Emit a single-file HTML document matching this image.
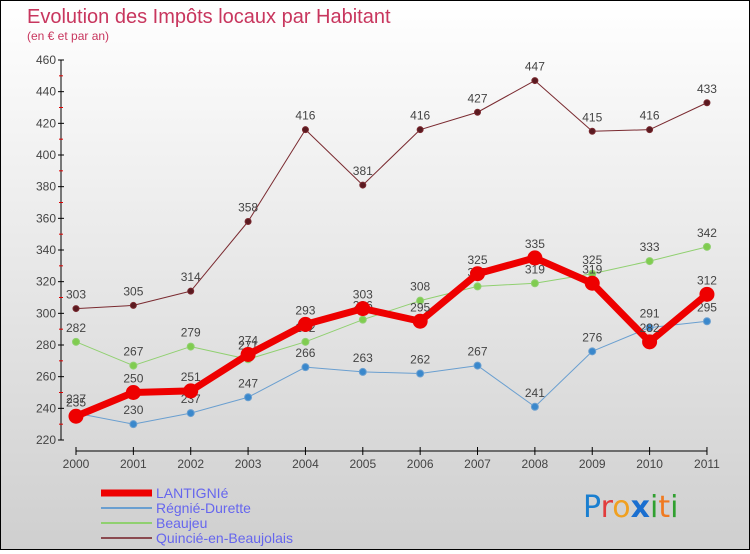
<!DOCTYPE html>
<html><head><meta charset="utf-8"><style>
html,body{margin:0;padding:0}
body{width:750px;height:550px;overflow:hidden;font-family:"Liberation Sans",sans-serif}
#wrap{position:relative;width:748px;height:548px;border:1px solid #000;background:linear-gradient(#ffffff,#cfcfcf)}
</style></head><body>
<div id="wrap">
<svg id="chart" width="748" height="548" font-family="Liberation Sans, sans-serif">
<text x="26" y="22" font-size="20" fill="#c8365e">Evolution des Impôts locaux par Habitant</text>
<text x="26" y="39" font-size="12" fill="#c8365e">(en € et par an)</text>
<g id="axes"></g><g id="series"></g><g id="legend"></g>
<g font-size="30" font-family="DejaVu Sans, sans-serif">
<text x="582" y="516"><tspan fill="#1a7fd0">P</tspan><tspan fill="#e23c3c">r</tspan><tspan fill="#f0a020">o</tspan><tspan fill="#1a6fd0" font-weight="bold">x</tspan><tspan fill="#30a030">i</tspan><tspan fill="#f07a20">t</tspan><tspan fill="#30a030">i</tspan></text>
</g>
</svg>
</div>
<script>
const years=[2000,2001,2002,2003,2004,2005,2006,2007,2008,2009,2010,2011];
const lantignie=[235,250,251,274,293,303,295,325,335,319,282,312];
const regnie=[237,230,237,247,266,263,262,267,241,276,291,295];
const beaujeu=[282,267,279,271,282,296,308,317,319,325,333,342];
const quincie=[303,305,314,358,416,381,416,427,447,415,416,433];
const yTicks=[220,240,260,280,300,320,340,360,380,400,420,440,460];
const NS='http://www.w3.org/2000/svg';
const xs=i=>75+i*57.36;
const ys=v=>439-(v-220)*(380/240);
function mk(t,a,p){const e=document.createElementNS(NS,t);for(const k in a)e.setAttribute(k,a[k]);p.appendChild(e);return e;}
const ax=document.getElementById('axes');
let yl=mk('line',{x1:60,y1:ys(460),x2:60,y2:ys(220),stroke:'#000'},ax);


yTicks.forEach(v=>{
 mk('line',{x1:57,x2:63,y1:ys(v),y2:ys(v),stroke:'#000'},ax);
 if(v<460)mk('line',{x1:58,x2:62,y1:ys(v+10),y2:ys(v+10),stroke:'#d00'},ax);
 const t=mk('text',{x:55,y:ys(v)+4,'text-anchor':'end','font-size':12,fill:'#444'},ax);t.textContent=v;
 
 
});
let xl=mk('line',{x1:xs(0),x2:xs(11),y1:450,y2:450,stroke:'#000'},ax);


years.forEach((y,i)=>{
 mk('line',{x1:xs(i),x2:xs(i),y1:446,y2:454,stroke:'#000'},ax);
 const t=mk('text',{x:xs(i),y:467,'text-anchor':'middle','font-size':12,fill:'#444'},ax);t.textContent=y;
 
 
});
const sg=document.getElementById('series');
function series(name,data,color,w,r,fill){
 const g=mk('g',{},sg);
 
 
 const pl=mk('polyline',{points:data.map((v,i)=>xs(i)+','+ys(v)).join(' '),fill:'none',stroke:color,'stroke-width':w,'stroke-linejoin':'round'},g);
 
 
 data.forEach((v,i)=>{
  const c=mk('circle',{cx:xs(i),cy:ys(v),r:r,fill:fill,stroke:color,'stroke-width':1},g);
  
  
  const t=mk('text',{x:xs(i),y:ys(v)-10,'text-anchor':'middle','font-size':12,fill:'#444'},g);t.textContent=v;
  
  
 });
}
series('quincie',quincie,'#7a2a30',1,3,'#5a1a20');
series('beaujeu',beaujeu,'#90d070',1,3.5,'#80cc50');
series('regnie',regnie,'#6a9fd0',1,3.5,'#3a88cc');
series('lantignie',lantignie,'#ee0000',7,7,'#ee0000');
const lg=document.getElementById('legend');
const L=[['LANTIGNIé','#ee0000',7],['Régnié-Durette','#6a9fd0',2],['Beaujeu','#90d070',2],['Quincié-en-Beaujolais','#8a4a50',2]];
L.forEach((l,i)=>{
 const y=492+i*15;
 const g=mk('g',{},lg);
 
 
 mk('line',{x1:100,x2:151,y1:y,y2:y,stroke:l[1],'stroke-width':l[2]},g);
 const t=mk('text',{x:155,y:y+5,'font-size':14,fill:'#6666ee'},g);t.textContent=l[0];
});
</script>
</body></html>
